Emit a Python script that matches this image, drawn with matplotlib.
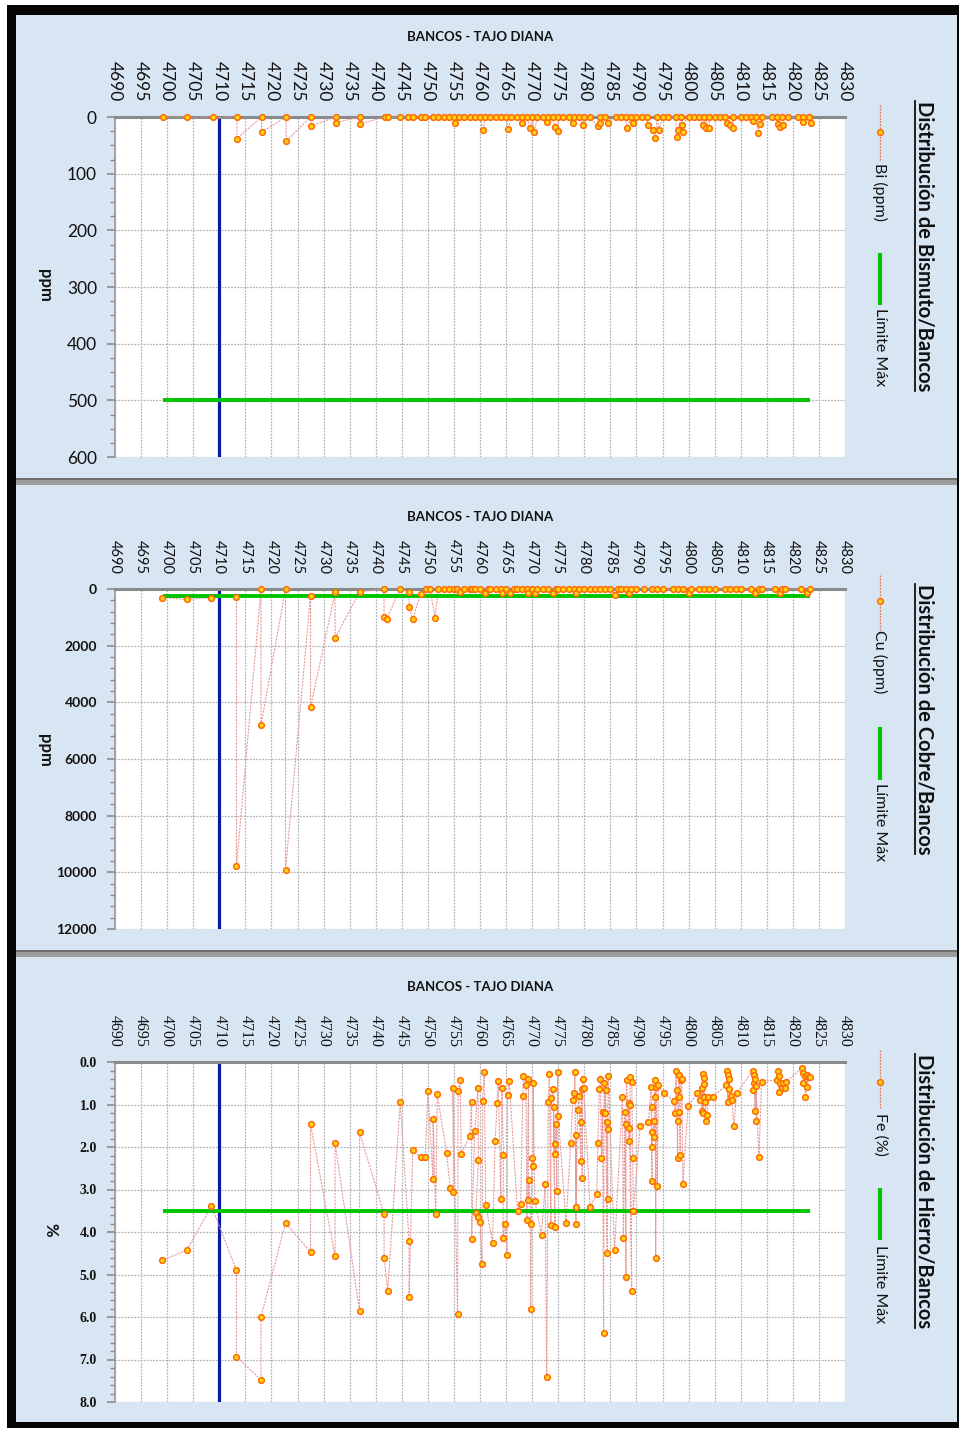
import matplotlib
matplotlib.use("Agg")
import matplotlib.pyplot as plt
from matplotlib.lines import Line2D
from matplotlib.patches import Rectangle
from matplotlib.ticker import MultipleLocator, FormatStrFormatter

W, H = 960, 1429
plt.rcParams['font.family'] = ['Lato', 'DejaVu Sans']

# ---- data (banco, valor) in sample order ----
bi_bank = [4699.2, 4703.9, 4708.7, 4713.4, 4713.4, 4718.1, 4718.1, 4722.8, 4722.8, 4727.5, 4727.5,
           4732.3, 4732.3, 4737, 4737, 4741.8, 4742.4, 4744.7, 4746.2, 4747.2, 4748.6, 4749.5,
           4751, 4752, 4753, 4754, 4755, 4755.2, 4756,
           4757, 4758, 4759, 4760, 4760.6, 4761, 4762, 4763, 4764, 4765, 4765.4, 4766, 4767, 4768,
           4768, 4769, 4769.6, 4770, 4770.4, 4771, 4772, 4772.8, 4773, 4774, 4774.4, 4775, 4775,
           4776, 4777, 4777.8, 4778, 4779, 4779.8, 4780, 4781, 4782.6, 4783, 4783, 4784, 4784.6,
           4786, 4787, 4788, 4788.2, 4789, 4789.4, 4790, 4791, 4792, 4792.2, 4793.2, 4793.6, 4794,
           4794.3, 4795, 4796, 4797.5, 4797.8, 4798, 4798.5, 4799, 4798.8, 4800, 4801, 4802, 4802.8,
           4803.3, 4803, 4804, 4804, 4805, 4806, 4807, 4807.4, 4808, 4808.5, 4808.5, 4810, 4811,
           4812, 4812.4, 4813, 4813.3, 4813.7, 4814, 4816, 4817, 4817.2, 4817.5, 4818.1, 4818, 4819,
           4821, 4822, 4822, 4823, 4823.5, 4823]
bi_ppm = [0, 0, 0, 0, 38, 0, 27, 0, 43, 0, 16,
          0, 10, 0, 12, 0, 0, 0, 0, 0, 0, 0,
          0, 0, 0, 0, 0, 10, 0,
          0, 0, 0, 0, 23, 0, 0, 0, 0, 0, 21, 0, 0, 0,
          10, 0, 19, 0, 27, 0, 0, 9, 0, 0, 17, 25, 0,
          0, 0, 10, 0, 0, 14, 0, 0, 16, 10, 0, 0, 10,
          0, 0, 0, 19, 0, 10, 0, 0, 0, 14, 23, 37, 0,
          23, 0, 0, 0, 35, 23, 0, 26, 14, 0, 0, 0, 14,
          19, 0, 19, 0, 0, 0, 0, 10, 14, 19, 0, 0, 0,
          0, 7, 0, 28, 12, 0, 0, 0, 12, 17, 14, 0, 0,
          0, 0, 9, 0, 10, 0]

cu_bank = [4699.1, 4703.8, 4708.5, 4713.3, 4713.3, 4718, 4718, 4722.7, 4722.7, 4727.5, 4727.5,
           4732.2, 4732.2, 4736.9, 4741.6, 4741.6, 4742.2, 4744.6, 4746.4, 4746.4, 4747.1, 4748.6,
           4749.6, 4750.4, 4751.4, 4752, 4753, 4754, 4755, 4755.6, 4756.2, 4757, 4758, 4758.5,
           4759, 4760, 4761, 4761.5, 4762, 4763, 4764, 4764.2, 4765, 4765.8, 4766.5, 4767, 4768,
           4769, 4769.3, 4770, 4770.5, 4771, 4772, 4773, 4774, 4774.5, 4775, 4776, 4777, 4778,
           4778.5, 4779, 4780, 4781, 4782, 4783, 4784, 4785, 4785.9, 4786.5, 4787, 4788, 4788.5,
           4789, 4790, 4791.5, 4793, 4794, 4795, 4797, 4798, 4799, 4800, 4800.5, 4802, 4803, 4804,
           4805, 4807, 4808, 4809, 4810, 4812, 4812.8, 4813.5, 4814, 4816.5, 4817.5, 4818, 4818.5,
           4821.5, 4822.7, 4823.3]
cu_ppm = [300, 365, 300, 270, 9785, 0, 4790, 0, 9900, 240, 4180,
          120, 1740, 100, 0, 975, 1045, 0, 100, 620, 1070, 170,
          0, 0, 1020, 0, 0, 0, 0, 0, 100, 0, 0, 0,
          0, 0, 130, 0, 0, 0, 0, 150, 0, 130, 0, 0, 0,
          0, 150, 0, 130, 0, 0, 0, 130, 0, 0, 0, 0, 0,
          150, 0, 0, 0, 0, 0, 0, 0, 200, 0, 0, 0, 130,
          0, 0, 0, 0, 0, 0, 0, 0, 0, 130, 0, 0, 0, 0,
          0, 0, 0, 0, 0, 0, 150, 0, 0, 0, 150, 0, 0,
          0, 150, 0]

fe_bank = [4699.1, 4703.8, 4708.5, 4713.3, 4713.3, 4718.0, 4718.0, 4722.7, 4727.5, 4727.5, 4732.2,
           4732.2, 4736.9, 4736.9, 4741.6, 4741.6, 4742.3, 4744.7, 4746.4, 4746.4, 4747.1, 4748.6,
           4749.5, 4750.0, 4751.0, 4751.0, 4751.5, 4751.8, 4753.6, 4754.3, 4754.9, 4754.8, 4755.7,
           4755.8, 4756.2, 4756.4, 4758.0, 4758.4, 4758.4, 4759.0, 4759.6, 4759.7, 4759.2, 4759.6,
           4760.0, 4760.4, 4760.5, 4760.8, 4761.1, 4762.4, 4762.9, 4763.3, 4763.5, 4764.0, 4764.2,
           4764.5, 4764.4, 4764.8, 4765.2, 4765.3, 4765.6, 4767.2, 4767.8, 4768.2, 4768.3, 4768.8,
           4769.0, 4769.3, 4769.3, 4769.4, 4769.7, 4769.7, 4769.9, 4770.2, 4770.2, 4770.5, 4771.8,
           4772.5, 4772.8, 4773.1, 4773.3, 4773.6, 4773.6, 4774.0, 4774.4, 4774.1, 4774.3, 4774.4,
           4774.6, 4774.7, 4774.9, 4775.0, 4776.5, 4777.4, 4777.8, 4778.1, 4778.2, 4778.4, 4778.4,
           4778.5, 4778.7, 4779.0, 4779.3, 4779.3, 4779.5, 4779.6, 4779.7, 4779.9, 4781.1, 4782.4,
           4782.6, 4782.9, 4783.1, 4783.3, 4783.5, 4783.7, 4783.8, 4784.0, 4784.1, 4784.4, 4784.3,
           4784.5, 4784.5, 4784.6, 4785.8, 4787.3, 4787.5, 4787.8, 4788.0, 4788.0, 4788.1, 4788.5,
           4788.5, 4788.6, 4789.1, 4788.8, 4788.8, 4789.1, 4789.3, 4789.4, 4790.7, 4792.3, 4792.8,
           4793.0, 4792.9, 4792.9, 4792.9, 4793.4, 4793.4, 4793.5, 4793.6, 4793.7, 4793.8, 4794.0,
           4794.2, 4795.2, 4797.3, 4797.4, 4797.6, 4797.7, 4797.9, 4797.9, 4798.1, 4798.2, 4798.2,
           4798.4, 4798.5, 4798.7, 4798.9, 4799.9, 4801.6, 4802.2, 4802.5, 4802.6, 4802.7, 4802.8,
           4802.9, 4803.0, 4803.0, 4803.2, 4803.4, 4803.6, 4803.8, 4804.6, 4807.2, 4807.3, 4807.5,
           4807.6, 4807.8, 4807.8, 4808.1, 4808.3, 4808.7, 4809.2, 4812.3, 4812.4, 4812.5, 4812.6,
           4812.8, 4812.7, 4813.0, 4812.9, 4813.5, 4814.0, 4816.9, 4817.2, 4817.4, 4817.4, 4817.6,
           4817.9, 4818.2, 4818.5, 4818.7, 4821.7, 4822.0, 4822.0, 4822.3, 4822.4, 4822.7, 4822.8,
           4823.0, 4823.3]
fe_pct = [4.67, 4.42, 3.39, 4.90, 6.93, 7.48, 6.00, 3.79, 4.47, 1.47, 4.57,
          1.90, 5.87, 1.65, 3.58, 4.60, 5.39, 0.94, 4.20, 5.53, 2.07, 2.24,
          2.24, 0.69, 2.76, 1.33, 3.58, 0.76, 2.15, 2.96, 3.07, 0.62, 5.94,
          0.69, 0.42, 2.16, 1.74, 0.93, 4.16, 1.62, 0.62, 2.31, 3.56, 3.64,
          3.76, 4.75, 0.92, 0.24, 3.37, 4.25, 1.87, 0.96, 0.44, 3.23, 0.62,
          2.19, 4.13, 3.80, 4.53, 0.78, 0.44, 3.51, 3.33, 0.80, 0.32, 0.55,
          3.72, 0.39, 3.25, 2.78, 3.80, 5.80, 2.27, 2.44, 0.49, 3.26, 4.06,
          2.86, 7.42, 0.93, 0.28, 3.84, 0.85, 0.63, 3.89, 1.05, 1.94, 2.16,
          1.46, 3.03, 0.24, 1.26, 3.78, 1.91, 0.90, 0.74, 0.24, 3.80, 1.71,
          3.40, 1.13, 0.80, 2.33, 1.41, 0.64, 2.72, 0.41, 0.60, 3.40, 3.11,
          1.90, 0.64, 0.41, 2.27, 1.17, 6.38, 0.50, 1.21, 0.66, 4.49, 1.40,
          3.22, 1.58, 0.33, 4.42, 0.82, 4.15, 1.17, 5.07, 1.46, 0.42, 1.56,
          1.87, 0.96, 5.38, 1.00, 0.35, 0.46, 2.27, 3.51, 1.51, 1.42, 0.58,
          2.80, 1.07, 1.64, 1.99, 1.38, 1.76, 0.82, 0.42, 4.60, 0.58, 2.92,
          0.54, 0.74, 0.91, 1.19, 0.20, 0.66, 2.27, 1.39, 0.82, 0.30, 1.17,
          2.19, 0.42, 0.40, 2.87, 1.04, 0.74, 0.89, 0.60, 1.15, 0.28, 1.21,
          0.38, 0.83, 0.52, 0.93, 1.39, 1.25, 0.82, 0.82, 0.55, 0.20, 0.93,
          0.30, 0.64, 0.41, 0.80, 0.89, 1.51, 0.74, 0.20, 0.66, 0.30, 0.50,
          1.15, 0.40, 1.38, 0.56, 2.23, 0.46, 0.42, 0.22, 0.70, 0.33, 0.50,
          0.60, 0.50, 0.60, 0.46, 0.15, 0.25, 0.50, 0.33, 0.82, 0.30, 0.58,
          0.36, 0.36]

bi_limit = 500
cu_limit = 250
fe_limit = 3.5
limit_from, limit_to = 4699.3, 4823.3
ref_bank = 4710
bank_ticks = list(range(4690, 4831, 5))

BG = '#d8e6f3'
SERIES_LINE = '#e79a9a'
MARK_FACE = '#ffd21a'
MARK_EDGE = '#ff6a00'
LIMIT_GREEN = '#00c400'
REF_BLUE = '#0a1aa8'


def fx(x):
    return x / W


def fy(y):
    return 1 - y / H


def rect(fig, x0, y0, x1, y1, color, z=-10):
    fig.patches.append(Rectangle((fx(x0), fy(y1)), (x1 - x0) / W, (y1 - y0) / H,
                                 transform=fig.transFigure, facecolor=color,
                                 edgecolor='none', zorder=z))


def vline(fig, x, y0, y1, **kw):
    fig.lines.append(Line2D([fx(x), fx(x)], [fy(y0), fy(y1)], transform=fig.transFigure, **kw))


def draw_panel(fig, top, bank, vals, limit, ymax, ystep, yminor, yfmt,
               xfont, xfs, yfont, yfs, yweight, ylabel, ylabel_xy,
               title_y, series_name, leg, heading):
    ax = fig.add_axes([fx(115), fy(top + 340), 730 / W, 340 / H])
    ax.set_facecolor('white')
    ax.set_xlim(4690, 4830)
    ax.set_ylim(ymax, 0)

    ax.xaxis.tick_top()
    ax.set_xticks(bank_ticks)
    ax.set_xticklabels([str(t) for t in bank_ticks], rotation=270,
                       fontsize=xfs, family=xfont)
    ax.tick_params(axis='x', length=0, pad=11, colors='#111111')

    ax.yaxis.set_major_locator(MultipleLocator(ystep))
    ax.yaxis.set_minor_locator(MultipleLocator(yminor))
    ax.yaxis.set_major_formatter(FormatStrFormatter(yfmt))
    ax.tick_params(axis='y', which='major', length=6, width=1.2, color='#8a8a8a', pad=7,
                   labelsize=yfs, labelcolor='#111111')
    ax.tick_params(axis='y', which='minor', length=3.5, width=1.0, color='#8a8a8a')
    for lab in ax.get_yticklabels():
        lab.set_family(yfont)
        lab.set_fontweight(yweight)

    for side in ('right', 'bottom'):
        ax.spines[side].set_visible(False)
    ax.spines['top'].set_color('#8a8a8a')
    ax.spines['top'].set_linewidth(2.2)
    ax.spines['left'].set_color('#9a9a9a')
    ax.spines['left'].set_linewidth(1.2)

    ax.grid(True, which='major', color='#b4b4b4', linestyle=(0, (1.5, 1)), linewidth=0.9)
    ax.set_axisbelow(True)

    ax.axvline(ref_bank, color=REF_BLUE, linewidth=2.3, zorder=2)
    ax.plot(bank, vals, color=SERIES_LINE, linewidth=0.8, linestyle=(0, (2, 1)), zorder=3)
    ax.plot([limit_from, limit_to], [limit, limit], color=LIMIT_GREEN, linewidth=2.8,
            solid_capstyle='butt', zorder=3.5)
    ax.plot(bank, vals, linestyle='none', marker='o', markersize=4.1, markerfacecolor=MARK_FACE,
            markeredgecolor=MARK_EDGE, markeredgewidth=1.1, zorder=4, clip_on=False)

    # header and y label
    fig.text(fx(480), fy(title_y), 'BANCOS - TAJO DIANA', ha='center', va='center',
             fontsize=9.5, fontweight='bold', color='#111111')
    fig.text(fx(ylabel_xy[0]), fy(ylabel_xy[1]), ylabel, rotation=270, ha='center', va='center',
             fontsize=12, fontweight='bold', color='#111111')

    # legend drawn rotated, like the original chart
    lx = 880
    s0, s1, sm, st, g0, g1, gt = leg
    vline(fig, lx, s0, s1, color='#e07a5a', linewidth=0.9, linestyle=(0, (1.5, 1)))
    fig.lines.append(Line2D([fx(lx)], [fy(sm)], transform=fig.transFigure, marker='o',
                            markersize=4.1, markerfacecolor=MARK_FACE, markeredgecolor=MARK_EDGE,
                            markeredgewidth=1.1))
    fig.text(fx(lx), fy(st), series_name, rotation=270, ha='center', va='top',
             fontsize=11.5, color='#111111')
    vline(fig, lx, g0, g1, color=LIMIT_GREEN, linewidth=3.0, solid_capstyle='butt')
    fig.text(fx(lx), fy(gt), 'Límite Máx', rotation=270, ha='center', va='top',
             fontsize=11.5, color='#111111')

    htxt, hx, hy = heading
    t = fig.text(fx(hx), fy(hy), htxt, rotation=270, ha='center', va='center',
                 fontsize=14.5, fontweight='bold', color='#111111')
    return ax, t


fig = plt.figure(figsize=(W / 100, H / 100), dpi=100)
fig.patch.set_facecolor('white')

# frame, panel backgrounds and separators
rect(fig, 7, 5, 959, 1428, '#050505', z=-20)
for y0, y1 in ((15, 478), (485, 950), (957, 1422)):
    rect(fig, 16, y0, 957, y1, BG)
for y0 in (478, 950):
    rect(fig, 16, y0, 957, y0 + 7, '#9c9c9c', z=-9)
    rect(fig, 16, y0, 957, y0 + 1.5, '#6e6e6e', z=-8)

_, t1 = draw_panel(fig, 117, bi_bank, bi_ppm, bi_limit, 600, 100, 25, '%d',
                   ['Lato', 'DejaVu Sans'], 12.5, ['Lato', 'DejaVu Sans'], 12.5, 'normal',
                   'ppm', (45, 285), 37, 'Bi (ppm)',
                   (105, 160, 132, 163, 253, 305, 308),
                   ('Distribución de Bismuto/Bancos', 925, 246))
_, t2 = draw_panel(fig, 589, cu_bank, cu_ppm, cu_limit, 12000, 2000, 400, '%d',
                   ['Lato', 'DejaVu Sans'], 10.5, ['Lato', 'DejaVu Sans'], 10, 'bold',
                   'ppm', (45, 750), 517, 'Cu (ppm)',
                   (575, 630, 601, 630, 727, 780, 783),
                   ('Distribución de Cobre/Bancos', 925, 719))
_, t3 = draw_panel(fig, 1062, fe_bank, fe_pct, fe_limit, 8.0, 1.0, 0.2, '%.1f',
                   ['Liberation Serif', 'DejaVu Serif'], 11.5, ['Liberation Serif', 'DejaVu Serif'],
                   10, 'bold', '%', (50, 1230), 987, 'Fe (%)',
                   (1050, 1108, 1082, 1113, 1188, 1240, 1245),
                   ('Distribución de Hierro/Bancos', 925, 1191))

# underline the rotated headings (baseline is on their left side)
renderer = fig.canvas.get_renderer()
for t in (t1, t2, t3):
    bb = t.get_window_extent(renderer)
    fig.lines.append(Line2D([bb.x0 / W, bb.x0 / W], [bb.y0 / H, bb.y1 / H],
                            transform=fig.transFigure, color='#111111', linewidth=1.3))

fig.savefig('out.png', dpi=100, facecolor='white')
